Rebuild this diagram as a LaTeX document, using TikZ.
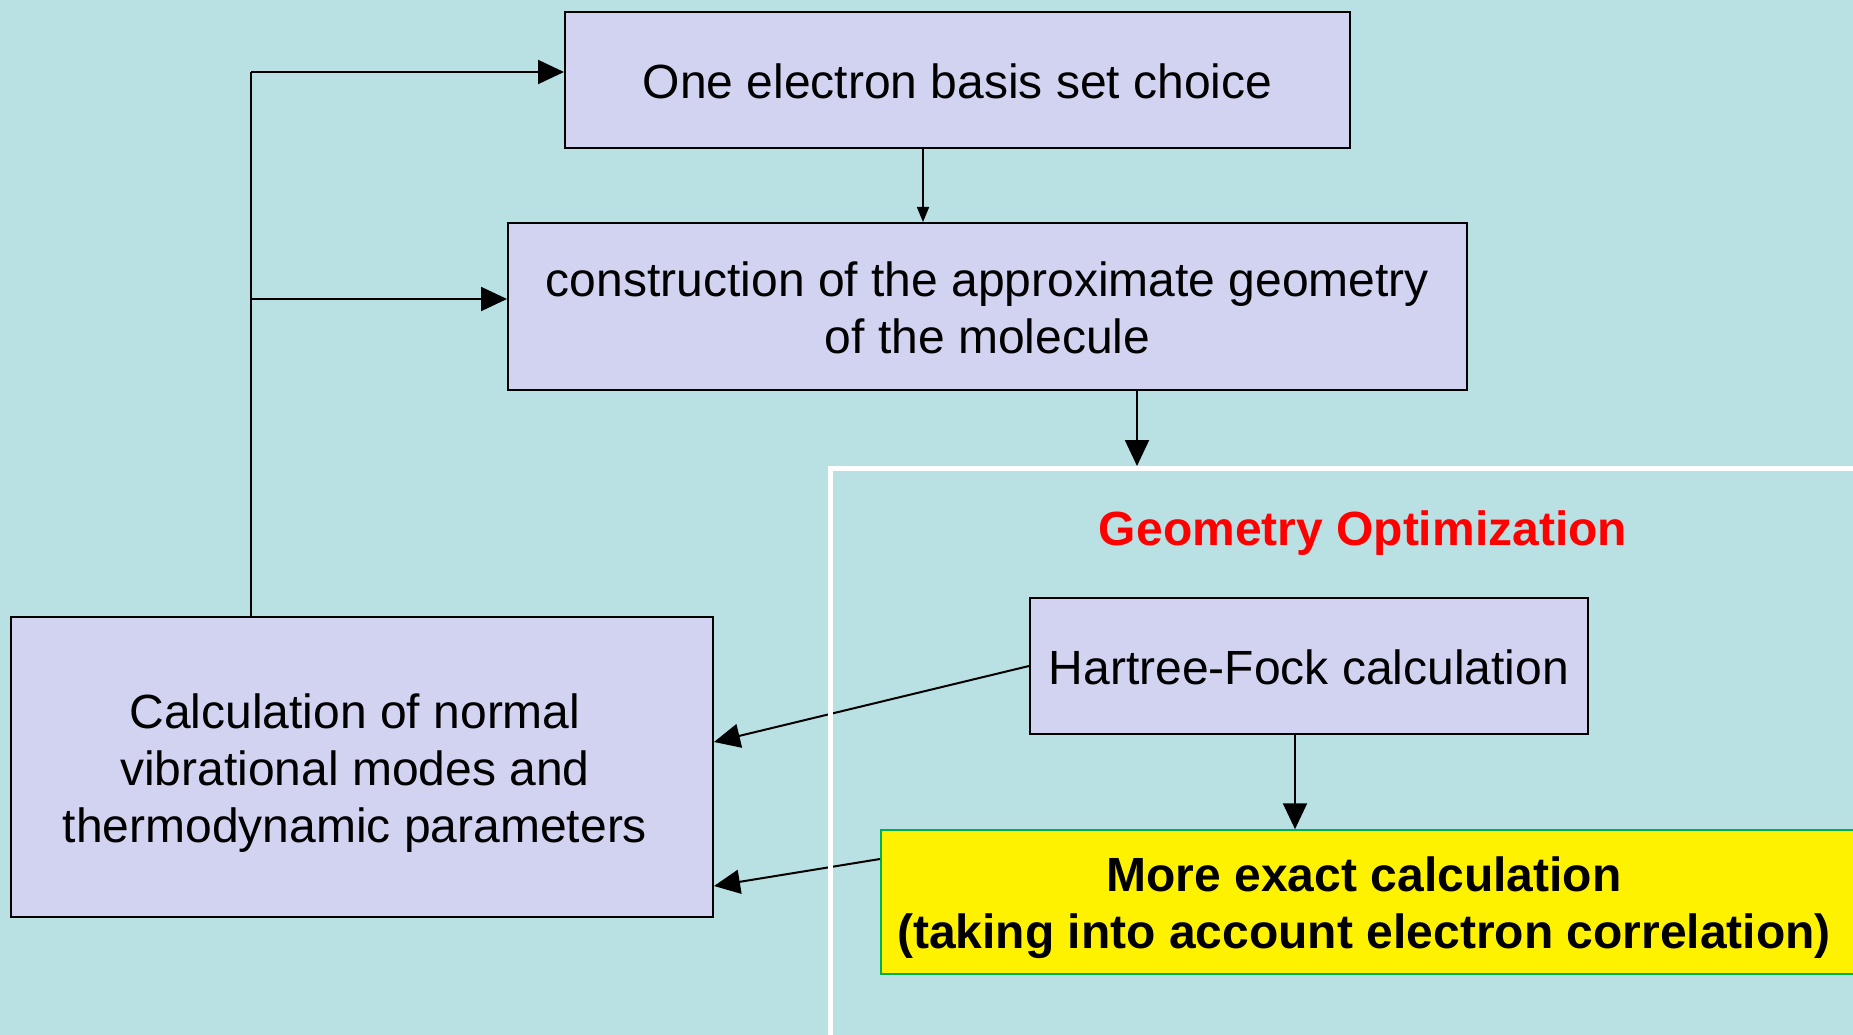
\documentclass[tikz,border=0pt]{standalone}
\usepackage{fontspec}
\setmainfont{Liberation Sans}
\usetikzlibrary{arrows.meta}
\definecolor{bg}{RGB}{185,224,227}
\definecolor{lav}{RGB}{209,211,240}
\definecolor{grn}{RGB}{0,176,80}
\begin{document}
\begin{tikzpicture}[x=1pt,y=-1pt,
  box/.style={draw=black, line width=2pt, fill=lav, align=center, inner sep=0pt,
              font=\fontsize{48}{57}\selectfont},
  plaintxt/.style={align=center, inner sep=0pt, font=\fontsize{48}{57}\selectfont},
  boldtxt/.style={align=center, inner sep=0pt, font=\bfseries\fontsize{48}{57}\selectfont},
  arr/.style={line width=2pt, -{Triangle[length=26pt,width=24pt]}},
  arrs/.style={line width=1.6pt, -{Triangle[length=15pt,width=12pt]}},
  line/.style={line width=1.6pt}]
\useasboundingbox (0,0) rectangle (1853,1035);
\clip (0,0) rectangle (1853,1035);
\fill[bg] (0,0) rectangle (1853,1035);

% nodes
\node[box, minimum width=785, minimum height=136] (b1) at (957.5,80) {\rule{0pt}{37pt}One electron basis set choice};
\node[box, minimum width=959, minimum height=167] (b2) at (987.5,306.5) {\rule{0pt}{37pt}construction of the approximate geometry\\of the molecule};
\node[draw=none, minimum width=1100, minimum height=620, anchor=north west] (go) at (830,468) {};
\node[boldtxt, text=red] (got) at (1363,533) {Geometry Optimization};
\node[box, minimum width=558, minimum height=136] (hf) at (1309,666) {\rule{0pt}{37pt}Hartree-Fock calculation};
\node[box, fill=yellow, draw=grn, line width=1.5pt, minimum width=1000, minimum height=144, anchor=west] (mx) at (880,902) {};
\node[boldtxt] (mxt) at (1364,908) {More exact calculation\\(taking into account electron correlation)};
\node[box, minimum width=702, minimum height=300] (ln) at (362,767) {};
\node[plaintxt] (lnt) at (355,773) {Calculation of normal\\vibrational modes and\\thermodynamic parameters};

% connectors
\coordinate (j1) at (251,72);
\coordinate (j2) at (251,299);
\draw[line] (ln.north -| j1) -- (j1);
\draw[arr] (j1) -- (j1 -| b1.west);
\draw[arr] (j2) -- (j2 -| b2.west);
\draw[arrs] (b1.south -| 923,0) -- (b2.north -| 923,0);
\draw[arr, shorten >=2pt] (b2.south -| 1137,0) -- (go.north -| 1137,0);
\draw[arr] (hf.south -| 1295,0) -- (mx.north -| 1295,0);
\draw[arr] (hf.west) -- (ln.east |- 0,742);
\draw[arr] (mx.west |- 0,859) -- (ln.east |- 0,886);

% white frame on top
\draw[white, line width=5pt] (go.north west) rectangle (go.south east);
\end{tikzpicture}
\end{document}
